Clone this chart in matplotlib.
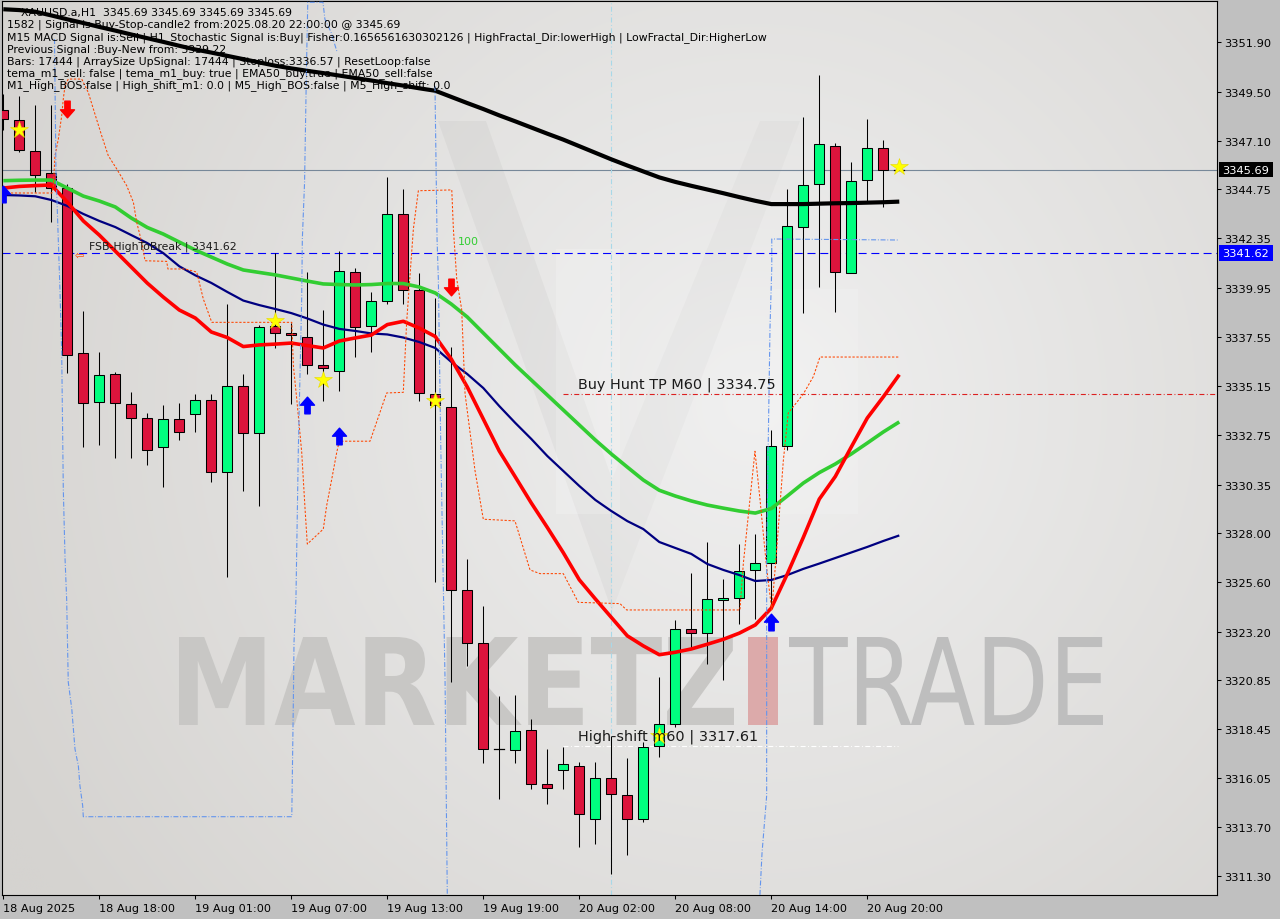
import numpy as np
import matplotlib
matplotlib.use("Agg")
import matplotlib.pyplot as plt
from matplotlib.patches import Rectangle, PathPatch, Polygon
from matplotlib.path import Path
from matplotlib.textpath import TextPath
from matplotlib.font_manager import FontProperties
from matplotlib.transforms import Affine2D

# ---------------------------------------------------------------- data
# XAUUSD.a H1 candles, 18 Aug 12:00 .. 20 Aug 22:00
opens = [3348.62, 3348.13, 3346.59, 3345.52, 3344.82, 3336.75, 3334.36, 3335.73, 3334.27, 3333.59,
         3332.17, 3333.54, 3333.78, 3334.46, 3330.96, 3335.14, 3332.86, 3338.08, 3337.73, 3337.53,
         3336.17, 3335.88, 3340.70, 3338.07, 3339.28, 3343.52, 3339.82, 3334.75, 3334.13, 3325.23,
         3322.63, 3317.50, 3317.44, 3318.41, 3315.75, 3316.47, 3316.66, 3314.09, 3316.05, 3315.26,
         3314.09, 3317.63, 3318.71, 3323.31, 3323.13, 3324.75, 3324.84, 3326.20, 3326.52, 3332.26,
         3342.88, 3344.99, 3346.87, 3340.65, 3345.18, 3346.76, 3345.69]
highs = [3349.38, 3349.28, 3348.85, 3348.85, 3345.00, 3338.80, 3336.83, 3335.84, 3334.87, 3333.84,
         3334.23, 3334.33, 3334.77, 3334.77, 3339.15, 3335.73, 3338.13, 3341.62, 3338.21, 3340.70,
         3338.86, 3341.72, 3340.89, 3339.72, 3345.32, 3344.75, 3340.65, 3339.45, 3337.06, 3326.71,
         3324.43, 3320.05, 3320.11, 3318.93, 3317.48, 3317.59, 3316.84, 3316.84, 3318.10, 3317.03,
         3317.82, 3320.98, 3323.78, 3326.07, 3327.55, 3325.74, 3327.47, 3327.93, 3333.01, 3344.75,
         3348.25, 3350.30, 3346.99, 3346.09, 3348.16, 3347.14, 3345.69]
lows = [3347.63, 3346.56, 3344.59, 3343.13, 3335.77, 3332.17, 3332.30, 3331.64, 3331.64, 3331.33,
        3330.25, 3332.54, 3332.90, 3330.47, 3325.84, 3330.03, 3329.30, 3337.00, 3334.28, 3335.74,
        3334.44, 3334.93, 3336.56, 3336.80, 3339.15, 3339.15, 3334.41, 3325.60, 3320.76, 3321.54,
        3316.79, 3315.02, 3316.79, 3315.52, 3314.78, 3315.52, 3312.69, 3312.87, 3311.38, 3312.31,
        3313.94, 3317.07, 3318.56, 3322.38, 3321.60, 3320.85, 3323.56, 3323.83, 3324.30, 3332.04,
        3338.73, 3339.96, 3338.78, 3340.65, 3344.10, 3343.87, 3345.69]
closes = [3348.16, 3346.67, 3345.44, 3344.82, 3336.69, 3334.32, 3335.68, 3334.32, 3333.59, 3332.03,
          3333.54, 3332.90, 3334.46, 3330.96, 3335.14, 3332.86, 3338.02, 3337.73, 3337.63, 3336.17,
          3336.02, 3340.75, 3338.02, 3339.28, 3343.52, 3339.82, 3334.80, 3334.23, 3325.23, 3322.63,
          3317.46, 3317.50, 3318.37, 3315.76, 3315.56, 3316.73, 3314.31, 3316.05, 3315.28, 3314.09,
          3317.59, 3318.71, 3323.31, 3323.13, 3324.77, 3324.84, 3326.17, 3326.54, 3332.26, 3342.94,
          3344.93, 3346.93, 3340.70, 3345.16, 3346.76, 3345.69, 3345.69]

# moving averages, one value per bar
ma_black = [3353.51, 3353.47, 3353.39, 3353.21, 3353.02, 3352.84, 3352.65, 3352.47, 3352.28, 3352.10,
            3351.92, 3351.73, 3351.55, 3351.40, 3351.24, 3351.08, 3350.92, 3350.76, 3350.63, 3350.51,
            3350.40, 3350.28, 3350.16, 3350.04, 3349.91, 3349.79, 3349.66, 3349.54, 3349.24, 3348.94,
            3348.65, 3348.34, 3348.05, 3347.75, 3347.45, 3347.16, 3346.84, 3346.52, 3346.20, 3345.90,
            3345.61, 3345.32, 3345.10, 3344.91, 3344.73, 3344.55, 3344.36, 3344.18, 3344.02, 3344.02,
            3344.02, 3344.04, 3344.06, 3344.07, 3344.09, 3344.11, 3344.14]
ma_green = [3345.16, 3345.18, 3345.19, 3345.19, 3344.80, 3344.41, 3344.17, 3343.88, 3343.34, 3342.88,
            3342.56, 3342.17, 3341.78, 3341.44, 3341.10, 3340.81, 3340.69, 3340.57, 3340.42, 3340.27,
            3340.13, 3340.10, 3340.08, 3340.10, 3340.15, 3340.15, 3339.98, 3339.69, 3339.15, 3338.52,
            3337.74, 3336.96, 3336.18, 3335.45, 3334.72, 3333.99, 3333.26, 3332.53, 3331.85, 3331.21,
            3330.58, 3330.08, 3329.80, 3329.56, 3329.36, 3329.21, 3329.07, 3328.97, 3329.19, 3329.80,
            3330.43, 3330.94, 3331.36, 3331.85, 3332.38, 3332.92, 3333.41]
ma_navy = [3344.46, 3344.44, 3344.40, 3344.22, 3343.93, 3343.54, 3343.20, 3342.90, 3342.51, 3342.12,
           3341.63, 3340.99, 3340.55, 3340.18, 3339.74, 3339.32, 3339.10, 3338.91, 3338.71, 3338.45,
           3338.15, 3337.94, 3337.84, 3337.72, 3337.67, 3337.52, 3337.30, 3337.01, 3336.33, 3335.74,
           3335.06, 3334.18, 3333.36, 3332.58, 3331.75, 3331.02, 3330.29, 3329.61, 3329.07, 3328.58,
           3328.19, 3327.56, 3327.27, 3326.98, 3326.49, 3326.20, 3325.95, 3325.66, 3325.71, 3325.95,
           3326.25, 3326.51, 3326.78, 3327.05, 3327.32, 3327.61, 3327.88]
ma_red = [3344.80, 3344.88, 3344.92, 3344.95, 3344.12, 3343.20, 3342.51, 3341.73, 3340.95, 3340.17,
          3339.49, 3338.86, 3338.47, 3337.79, 3337.52, 3337.08, 3337.16, 3337.20, 3337.25, 3337.13,
          3337.01, 3337.35, 3337.50, 3337.64, 3338.15, 3338.31, 3337.98, 3337.57, 3336.47, 3335.11,
          3333.55, 3331.99, 3330.73, 3329.46, 3328.27, 3327.04, 3325.72, 3324.79, 3323.89, 3322.99,
          3322.50, 3322.07, 3322.19, 3322.35, 3322.58, 3322.82, 3323.12, 3323.52, 3324.34, 3326.00,
          3327.78, 3329.65, 3330.75, 3332.19, 3333.60, 3334.63, 3335.71]

# trailing stop channel (orange dotted), vertices as (bar, price)
stop_bar = [-0.02, 3.04, 3.13, 3.23, 3.44, 3.65, 3.75, 3.86, 4.06, 4.90, 5.31, 5.63, 6.15, 6.56, 7.09,
            7.71, 8.13, 8.34, 8.65, 8.86, 10.21, 10.29, 11.36, 12.09, 12.50, 13.03, 18.03, 18.13, 18.34,
            18.65, 18.86, 19.00, 20.00, 20.21, 20.53, 20.84, 21.00, 22.92, 23.96, 25.00, 25.21, 25.63,
            25.94, 28.03, 28.13, 28.34, 28.65, 28.86, 29.48, 30.00, 31.98, 32.92, 33.54, 35.00, 35.94,
            38.54, 38.96, 46.04, 46.25, 46.67, 46.98, 47.29, 47.71, 48.03, 48.34, 48.75, 49.06, 50.00,
            50.63, 51.04, 56.04]
stop_price = [3344.56, 3344.56, 3344.92, 3346.38, 3347.19, 3348.32, 3349.14, 3349.79, 3350.11, 3350.11,
              3349.46, 3348.65, 3347.35, 3346.38, 3345.73, 3344.92, 3344.11, 3343.13, 3342.16, 3341.26,
              3341.23, 3340.86, 3340.86, 3340.71, 3339.40, 3338.26, 3338.26, 3336.15, 3334.53, 3331.94,
              3329.17, 3327.46, 3328.19, 3329.33, 3330.63, 3331.93, 3332.47, 3332.47, 3334.82, 3334.85,
              3338.28, 3342.81, 3344.67, 3344.71, 3342.81, 3340.37, 3338.88, 3334.78, 3331.05, 3328.67,
              3328.59, 3326.20, 3326.02, 3326.02, 3324.62, 3324.56, 3324.25, 3324.25, 3326.49, 3329.66,
              3331.98, 3329.66, 3326.29, 3324.25, 3327.22, 3331.51, 3333.84, 3334.77, 3335.62, 3336.57,
              3336.57]

# range envelope (blue dash-dot), three pieces
env1_bar = [3.20, 3.29, 3.54, 3.65, 3.75, 3.86, 3.96, 4.06, 4.28, 4.48, 4.69, 4.79, 4.96, 5.00, 18.03,
            18.13, 18.17, 18.29, 18.44, 18.65, 18.69, 18.83, 18.95, 19.03, 19.98, 20.10, 20.48, 20.86]
env1_price = [3352.06, 3345.73, 3339.88, 3336.82, 3330.14, 3326.73, 3324.78, 3320.74, 3319.43, 3317.48,
              3316.66, 3315.69, 3314.72, 3314.18, 3314.18, 3319.91, 3322.69, 3324.78, 3332.09, 3339.40,
              3342.32, 3345.10, 3350.75, 3353.85, 3353.85, 3353.03, 3352.40, 3351.43]
env2_bar = [26.98, 27.11, 27.19, 27.34, 27.61, 27.75]
env2_price = [3349.77, 3342.32, 3340.37, 3332.35, 3320.80, 3310.37]
env3_bar = [47.29, 47.42, 47.71, 47.71, 47.81, 47.92, 48.03, 48.03, 55.94]
env3_price = [3310.37, 3312.41, 3315.20, 3326.85, 3332.45, 3338.03, 3340.93, 3342.32, 3342.27]

# signal markers
star_bar = [1, 17, 20, 27, 41, 56]
star_price = [3347.63, 3338.32, 3335.46, 3334.43, 3318.11, 3345.83]
buy_arrow_bar = [0, 19, 21, 48]
buy_arrow_price = [3344.51, 3334.23, 3332.72, 3323.66]
sell_arrow_bar = [4, 28]
sell_arrow_price = [3348.65, 3339.98]

# levels
last_price = 3345.69
fsb_level = 3341.62
tp_level = 3334.75
shift_level = 3317.61

# axes labels
price_ticks = [3351.90, 3349.50, 3347.10, 3344.75, 3342.35, 3339.95, 3337.55, 3335.15, 3332.75,
               3330.35, 3328.00, 3325.60, 3323.20, 3320.85, 3318.45, 3316.05, 3313.70, 3311.30]
time_tick_bars = [0, 6, 12, 18, 24, 30, 36, 42, 48, 54]
time_tick_labels = ["18 Aug 2025", "18 Aug 18:00", "19 Aug 01:00", "19 Aug 07:00", "19 Aug 13:00",
                    "19 Aug 19:00", "20 Aug 02:00", "20 Aug 08:00", "20 Aug 14:00", "20 Aug 20:00"]

info_lines = [
    "XAUUSD.a,H1  3345.69 3345.69 3345.69 3345.69",
    "1582 | Signal is Buy-Stop-candle2 from:2025.08.20 22:00:00 @ 3345.69",
    "M15 MACD Signal is:Sell | H1_Stochastic Signal is:Buy| Fisher:0.1656561630302126 | "
    "HighFractal_Dir:lowerHigh | LowFractal_Dir:HigherLow",
    "Previous Signal :Buy-New from: 3339.22",
    "Bars: 17444 | ArraySize UpSignal: 17444 | Stoploss:3336.57 | ResetLoop:false",
    "tema_m1_sell: false | tema_m1_buy: true | EMA50_buy:true | EMA50_sell:false",
    "M1_High_BOS:false | High_shift_m1: 0.0 | M5_High_BOS:false | M5_High_shift: 0.0",
]

# ---------------------------------------------------------------- layout
W, H = 1280, 920
fig = plt.figure(figsize=(W / 100, H / 100), dpi=100, facecolor="#c0c0c0")
PL, PR, PT, PB = 2, 1217, 2, 896
ax = fig.add_axes([PL / W, 1 - PB / H, (PR - PL) / W, (PB - PT) / H])
x0 = -0.081
ax.set_xlim(x0, x0 + (PR - PL) / 16.0)
ax.set_ylim(3310.366, 3353.912)


def fpx(pts):
    return [(x / W, 1 - y / H) for x, y in pts]


# background gradient
gx, gy = np.meshgrid(np.linspace(0, 1, 300), np.linspace(0, 1, 300))
d = np.sqrt(((gx - 0.62) * 1.35) ** 2 + (gy - 0.55) ** 2)
t = np.clip(1 - d / 0.95, 0, 1)
dark = np.array([213, 211, 208]) / 255.0
light = np.array([240, 240, 240]) / 255.0
img = dark[None, None, :] + (light - dark)[None, None, :] * t[..., None]
ax.imshow(img, extent=[0, 1, 0, 1], transform=ax.transAxes, origin="lower",
          aspect="auto", zorder=0, interpolation="bilinear")

# logo watermark
logo_shapes = [
    ([(438, 122), (486, 122), (612, 480), (612, 612)], "#000000", 0.03),
    ([(612, 480), (612, 612), (800, 122), (760, 122)], "#000000", 0.02),
    ([(556, 250), (620, 250), (620, 515), (556, 515)], "#ffffff", 0.18),
    ([(770, 290), (858, 290), (858, 515), (770, 515)], "#ffffff", 0.15),
]
for pts, col, al in logo_shapes:
    ax.add_patch(Polygon(fpx(pts), closed=True, transform=fig.transFigure,
                         facecolor=col, edgecolor="none", alpha=al, zorder=1))


def fitted_text(s, box, weight, color):
    tp = TextPath((0, 0), s, size=10, prop=FontProperties(family="DejaVu Sans", weight=weight))
    ext = tp.get_extents()
    x0b, y0b, x1b, y1b = box
    sx = (x1b - x0b) / ext.width
    sy = (y1b - y0b) / ext.height
    tr = (Affine2D().translate(-ext.x0, -ext.y0).scale(sx, sy)
          .translate(x0b, H - y1b).scale(1.0 / W, 1.0 / H))
    path = tr.transform_path(tp)
    ax.add_patch(PathPatch(path, transform=fig.transFigure, facecolor=color,
                           edgecolor="none", zorder=1))


fitted_text("MARKETZ", (179, 638, 734, 726), "bold", "#c8c7c5")
fitted_text("TRADE", (789, 638, 1103, 726), "normal", "#bebebe")
ax.add_patch(Rectangle((748 / W, 1 - 726 / H), 30 / W, 88 / H, transform=fig.transFigure,
                       facecolor="#dcaaaa", edgecolor="none", zorder=1))

# horizontal levels
ax.axhline(last_price, color="#778899", lw=0.8, zorder=2)
ax.axhline(fsb_level, color="#0000ff", lw=0.8, dashes=(7.2, 4.3), zorder=2)
ax.plot([35.0, 80], [tp_level, tp_level], color="#dc2020", lw=0.8,
        dashes=(4.5, 2.2, 0.8, 2.2), zorder=2)
ax.plot([35.0, 55.9], [shift_level, shift_level], color="#ffffff", lw=0.8,
        dashes=(4.5, 2.2, 0.8, 2.2), zorder=2)
ax.axvline(38, color="#a8d8e8", lw=0.8, dashes=(4.5, 2.2, 0.8, 2.2), zorder=2)

# candles
bw = 0.6
for i, (o, h, l, c) in enumerate(zip(opens, highs, lows, closes)):
    ax.plot([i, i], [l, h], color="black", lw=0.75, zorder=3, solid_capstyle="butt")
    if abs(c - o) < 1e-9:
        ax.plot([i - bw / 2, i + bw / 2], [o, o], color="black", lw=0.9, zorder=4)
        continue
    col = "#00ff7f" if c > o else "#dc143c"
    ax.add_patch(Rectangle((i - bw / 2, min(o, c)), bw, abs(c - o), facecolor=col,
                           edgecolor="black", lw=0.75, zorder=4))

bars = np.arange(len(opens))
ax.plot(bars, ma_black, color="black", lw=3.0, zorder=5, solid_capstyle="butt")
ax.plot(bars, ma_green, color="#32cd32", lw=2.6, zorder=5, solid_capstyle="butt")
ax.plot(bars, ma_navy, color="#000080", lw=1.6, zorder=5, solid_capstyle="butt")
ax.plot(bars, ma_red, color="#ff0000", lw=2.6, zorder=5, solid_capstyle="butt")

ax.plot(stop_bar, stop_price, color="#ff4500", lw=0.75, dashes=(2.2, 1.6), zorder=6)
for eb, ep in ((env1_bar, env1_price), (env2_bar, env2_price), (env3_bar, env3_price)):
    ax.plot(eb, ep, color="#6495ed", lw=0.8, dashes=(4.5, 1.6, 0.8, 1.6), zorder=6)

# markers
up_arrow = Path([(-0.16, -0.5), (0.16, -0.5), (0.16, 0.02), (0.42, 0.02), (0.0, 0.5),
                 (-0.42, 0.02), (-0.16, 0.02), (-0.16, -0.5)], closed=True)
down_arrow = Path([(x, -y) for x, y in up_arrow.vertices], up_arrow.codes)
ax.plot(buy_arrow_bar, buy_arrow_price, linestyle="none", marker=up_arrow, markersize=12,
        color="#0000ff", zorder=7)
ax.plot(sell_arrow_bar, sell_arrow_price, linestyle="none", marker=down_arrow, markersize=12,
        color="#ff0000", zorder=7)
ax.plot(star_bar, star_price, linestyle="none", marker="*", markersize=13,
        color="#ffff00", markeredgecolor="#e6d800", markeredgewidth=0.4, zorder=7)

# level captions
ax.annotate("FSB-HighToBreak | 3341.62", (5.36, fsb_level), xytext=(0, 1.5),
            textcoords="offset points", fontsize=7.8, color="#1a1a1a", va="bottom", zorder=8)
ax.annotate("⇦", (4.75, fsb_level), xytext=(0, -1), textcoords="offset points",
            fontsize=8, color="#ff4500", va="center", ha="center", zorder=8)
ax.annotate("Buy Hunt TP M60 | 3334.75", (35.92, tp_level), xytext=(0, 2.5),
            textcoords="offset points", fontsize=10.4, color="#1a1a1a", va="bottom", zorder=8)
ax.annotate("High-shift m60 | 3317.61", (35.92, shift_level), xytext=(0, 2.5),
            textcoords="offset points", fontsize=10.4, color="#1a1a1a", va="bottom", zorder=8)
ax.text(28.4, 3342.22, "100", fontsize=8, color="#32cd32", va="center", zorder=8)

# info panel text
ys = [12.7, 25.0, 37.7, 50.0, 62.0, 73.5, 86.0]
for k, (s, yy) in enumerate(zip(info_lines, ys)):
    fig.text((21 if k == 0 else 7) / W, 1 - yy / H, s, fontsize=7.8, color="black",
             va="center", ha="left", zorder=3)

# axes styling
for sp in ax.spines.values():
    sp.set_color("black")
    sp.set_linewidth(0.8)
ax.yaxis.tick_right()
ax.set_yticks(price_ticks)
ax.set_yticklabels([f"{v:.2f}" for v in price_ticks])
ax.tick_params(axis="y", direction="out", length=3, width=0.75, pad=2, labelsize=8.2,
               colors="black")
ax.set_xticks(time_tick_bars)
ax.set_xticklabels(time_tick_labels, ha="left")
ax.tick_params(axis="x", direction="out", length=3, width=0.75, pad=3, labelsize=8.1,
               colors="black")

# price tags on the scale
for price, face, y0t, y1t in ((last_price, "#000000", 163, 178), (fsb_level, "#0000ff", 246, 262)):
    fig.patches.append(Rectangle((1219 / W, 1 - y1t / H), 54 / W, (y1t - y0t) / H,
                                 transform=fig.transFigure, facecolor=face, edgecolor="none",
                                 zorder=5))
    fig.text(1222 / W, 1 - (y0t + y1t) / 2 / H, f"{price:.2f}", fontsize=8.2, color="white",
             va="center", ha="left", zorder=6)

fig.savefig("out.png", dpi=100, facecolor=fig.get_facecolor())
